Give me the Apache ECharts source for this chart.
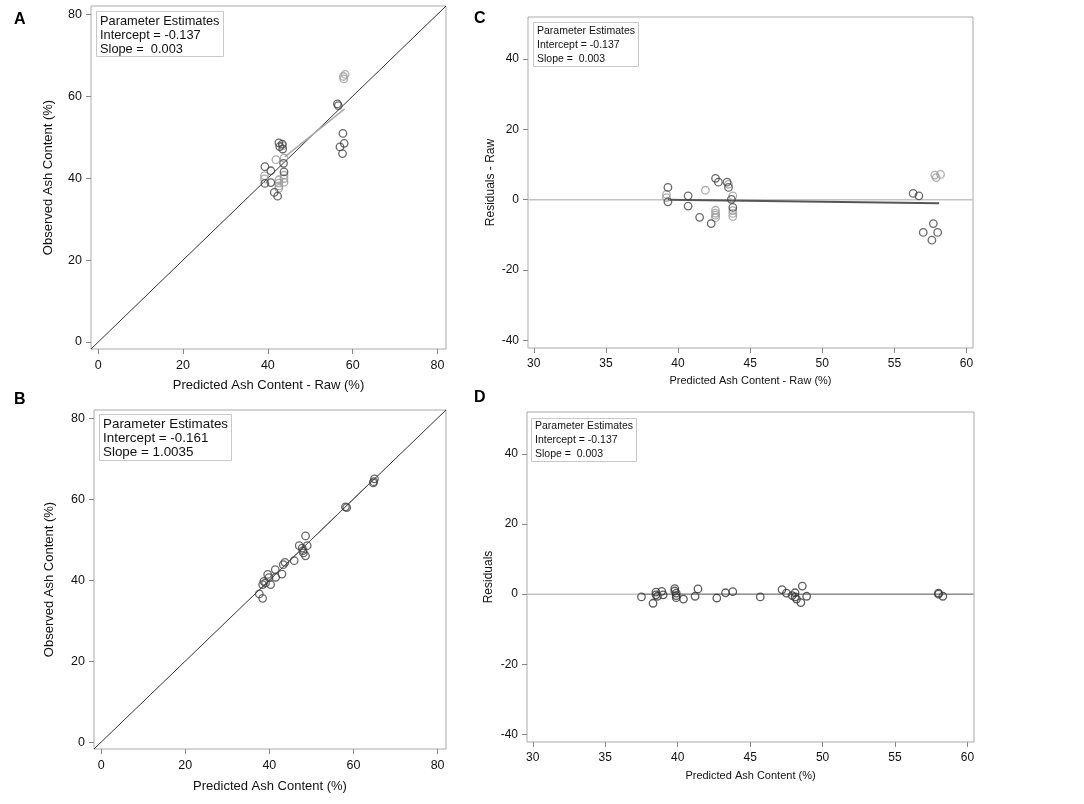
<!DOCTYPE html>
<html>
<head>
<meta charset="utf-8">
<script src="https://cdn.jsdelivr.net/npm/echarts@6/dist/echarts.min.js"></script>
<style>
    html, body {margin: 0; padding: 0; background: #fff;}
    #main {width: 1084px; height: 804px;}
</style>
</head>
<body>
<div id="main"></div>
<script>
var FONT = '"Liberation Sans", Arial, sans-serif';

// ------------------ A: observed vs predicted (raw) ------------------
var aDarkX = [39.3, 39.3, 40.7, 40.7, 41.5, 42.3, 42.6, 42.8, 43.4, 43.5, 43.7, 43.8, 56.4, 56.6, 57.0, 57.6, 57.7, 58.0];
var aDarkY = [42.8, 38.7, 41.8, 38.9, 36.5, 35.6, 48.6, 47.7, 48.3, 47.1, 43.6, 41.5, 58.1, 57.7, 47.6, 46.0, 50.9, 48.5];
var aGrayX = [39.2, 39.2, 41.9, 42.6, 42.6, 42.6, 42.6, 43.5, 43.8, 43.8, 43.8, 43.8, 57.8, 57.9, 58.2];
var aGrayY = [40.6, 39.8, 44.5, 39.6, 38.8, 38.1, 37.5, 47.9, 44.9, 40.7, 39.9, 39.0, 64.8, 64.2, 65.3];
var aFitX = [44.0, 58.1];
var aFitY = [45.2, 56.9];

// ------------------ B: observed vs predicted ------------------
var bX = [37.6, 38.4, 38.4, 38.7, 39.1, 39.6, 39.9, 40.3, 41.4, 41.5, 43.0, 43.3, 43.7, 45.9, 47.1, 47.8, 48.0, 48.1, 48.6, 48.6, 49.0, 58.1, 58.4, 64.8, 65.0, 64.7];
var bY = [36.6, 35.5, 38.9, 39.7, 39.3, 41.4, 40.6, 38.9, 42.6, 40.7, 41.5, 43.8, 44.4, 44.8, 48.5, 47.9, 47.3, 46.7, 50.9, 46.0, 48.5, 58.1, 57.9, 64.3, 65.0, 64.0];
var bFitX = [37.5, 65.0];
var bFitY = [37.4, 65.1];

// ------------------ C: residuals (raw) ------------------
var cDarkX = [39.3, 39.3, 40.7, 40.7, 41.5, 42.3, 42.6, 42.8, 43.4, 43.5, 43.7, 43.8, 56.3, 56.7, 57.0, 57.6, 57.7, 58.0];
var cDarkY = [3.5, -0.6, 1.1, -1.8, -5.0, -6.8, 6.1, 5.0, 5.0, 3.5, 0.1, -2.2, 1.8, 1.1, -9.3, -11.5, -6.8, -9.3];
var cGrayX = [39.2, 39.2, 41.9, 42.6, 42.6, 42.6, 42.6, 43.5, 43.8, 43.8, 43.8, 43.8, 57.8, 57.9, 58.2];
var cGrayY = [1.5, 0.6, 2.7, -3.0, -3.8, -4.4, -5.1, 4.4, 1.1, -3.1, -3.9, -4.8, 7.0, 6.3, 7.2];
var cFitX = [39.3, 58.1];
var cFitY = [0.0, -1.0];

// ------------------ D: residuals ------------------
var dX = [37.5, 38.3, 38.5, 38.5, 38.6, 38.9, 39.0, 39.8, 39.8, 39.9, 39.9, 39.9, 40.4, 41.2, 41.4, 42.7, 43.3, 43.8, 45.7, 47.2, 47.5, 47.9, 48.1, 48.1, 48.2, 48.5, 48.6, 48.9, 58.0, 58.0, 58.3];
var dY = [-0.8, -2.6, 0.6, -0.2, -0.6, 0.8, -0.2, 1.6, 0.9, 0.3, -0.4, -1.0, -1.4, -0.6, 1.5, -1.1, 0.4, 0.7, -0.8, 1.3, 0.3, -0.4, 0.4, -0.8, -1.4, -2.4, 2.3, -0.6, 0.3, 0.0, -0.6];
var dFitX = [37.5, 60.4];
var dFitY = [0.0, 0.0];

// axis ranges and ticks
var diagRange = [-1.7, 82];
var diagTicks = [0, 20, 40, 60, 80];
var residXRange = [29.6, 60.45];
var residXTicks = [30, 35, 40, 45, 50, 55, 60];
var residYRange = [-42.2, 52];
var residYTicks = [-40, -20, 0, 20, 40];

var estA = 'Parameter Estimates\nIntercept = -0.137\nSlope =  0.003';
var estB = 'Parameter Estimates\nIntercept = -0.161\nSlope = 1.0035';

function zip(xs, ys) {
    var out = [];
    for (var i = 0; i < xs.length; i++) {
        out.push([xs[i], ys[i]]);
    }
    return out;
}

function makeAxis(idx, range, ticks, name, nameGap, nameSize, labelSize, isY) {
    return {
        type: 'value',
        gridIndex: idx,
        min: range[0],
        max: range[1],
        name: name,
        nameLocation: 'middle',
        nameGap: nameGap,
        nameTextStyle: {color: '#111', fontSize: nameSize, fontFamily: FONT},
        splitLine: {show: false},
        axisLine: {show: false, onZero: false},
        axisTick: {show: true, length: 5, customValues: ticks, lineStyle: {color: '#888'}},
        axisLabel: {customValues: ticks, margin: isY ? 9 : 10, color: '#111', fontSize: labelSize, fontFamily: FONT}
    };
}

function points(idx, data, color) {
    return {
        type: 'scatter',
        xAxisIndex: idx,
        yAxisIndex: idx,
        data: data,
        symbol: 'circle',
        symbolSize: 7.5,
        silent: true,
        itemStyle: {color: 'rgba(0,0,0,0)', borderColor: color, borderWidth: 1.3},
        z: 5
    };
}

function line(idx, data, color, width) {
    return {
        type: 'line',
        xAxisIndex: idx,
        yAxisIndex: idx,
        data: data,
        symbol: 'none',
        silent: true,
        lineStyle: {color: color, width: width},
        z: 3
    };
}

function estBox(text, left, top, size, pad) {
    return {
        text: text,
        left: left,
        top: top,
        padding: pad,
        borderColor: '#c8c8c8',
        borderWidth: 1,
        textStyle: {fontSize: size, fontWeight: 'normal', color: '#111', lineHeight: 14, fontFamily: FONT}
    };
}

function letter(text, left, top) {
    return {
        text: text,
        left: left,
        top: top,
        padding: 0,
        textStyle: {fontSize: 16, fontWeight: 'bold', color: '#000', fontFamily: FONT}
    };
}

var gridStyle = {show: true, borderColor: '#aaa', borderWidth: 1, backgroundColor: '#fff'};

var chart = echarts.init(document.getElementById('main'));

var option = {
    backgroundColor: '#fff',
    animation: false,
    title: [
        letter('A', 14, 12),
        letter('B', 14, 392),
        letter('C', 474, 11),
        letter('D', 474, 390),
        estBox(estA, 96, 11, 12.8, [3, 4, 1, 4]),
        estBox(estB, 99, 414, 13.4, [3, 4, 2, 4]),
        estBox(estA, 533, 22, 10.5, [2, 4, 1, 4]),
        estBox(estA, 531, 418, 10.5, [1, 4, 1, 4])
    ],
    grid: [
        Object.assign({left: 91, top: 6, width: 355, height: 343}, gridStyle),
        Object.assign({left: 94, top: 410, width: 352, height: 339}, gridStyle),
        Object.assign({left: 528, top: 17, width: 445, height: 331}, gridStyle),
        Object.assign({left: 527, top: 412, width: 447, height: 330}, gridStyle)
    ],
    xAxis: [
        makeAxis(0, diagRange, diagTicks, 'Predicted Ash Content - Raw (%)', 30, 13, 12.5, false),
        makeAxis(1, diagRange, diagTicks, 'Predicted Ash Content (%)', 31, 13, 12.5, false),
        makeAxis(2, residXRange, residXTicks, 'Predicted Ash Content - Raw (%)', 27, 11, 12, false),
        makeAxis(3, residXRange, residXTicks, 'Predicted Ash Content (%)', 28, 11, 12, false)
    ],
    yAxis: [
        makeAxis(0, diagRange, diagTicks, 'Observed Ash Content (%)', 36, 13, 12.5, true),
        makeAxis(1, diagRange, diagTicks, 'Observed Ash Content (%)', 38, 13, 12.5, true),
        makeAxis(2, residYRange, residYTicks, 'Residuals - Raw', 31, 12, 12, true),
        makeAxis(3, residYRange, residYTicks, 'Residuals', 32, 12, 12, true)
    ],
    series: [
        // A
        line(0, zip(diagRange, diagRange), '#333', 1),
        line(0, zip(aFitX, aFitY), '#aaa', 1.5),
        points(0, zip(aGrayX, aGrayY), '#9a9a9a'),
        points(0, zip(aDarkX, aDarkY), '#444'),
        // B
        line(1, zip(diagRange, diagRange), '#333', 1),
        line(1, zip(bFitX, bFitY), '#666', 1),
        points(1, zip(bX, bY), '#444'),
        // C
        line(2, zip(residXRange, [0, 0]), '#c4c4c4', 1.5),
        line(2, zip(cFitX, cFitY), '#555', 2),
        points(2, zip(cGrayX, cGrayY), '#9a9a9a'),
        points(2, zip(cDarkX, cDarkY), '#444'),
        // D
        line(3, zip(residXRange, [0, 0]), '#c4c4c4', 1.5),
        line(3, zip(dFitX, dFitY), '#777', 1),
        points(3, zip(dX, dY), '#333')
    ]
};
chart.setOption(option);
</script>
</body>
</html>
